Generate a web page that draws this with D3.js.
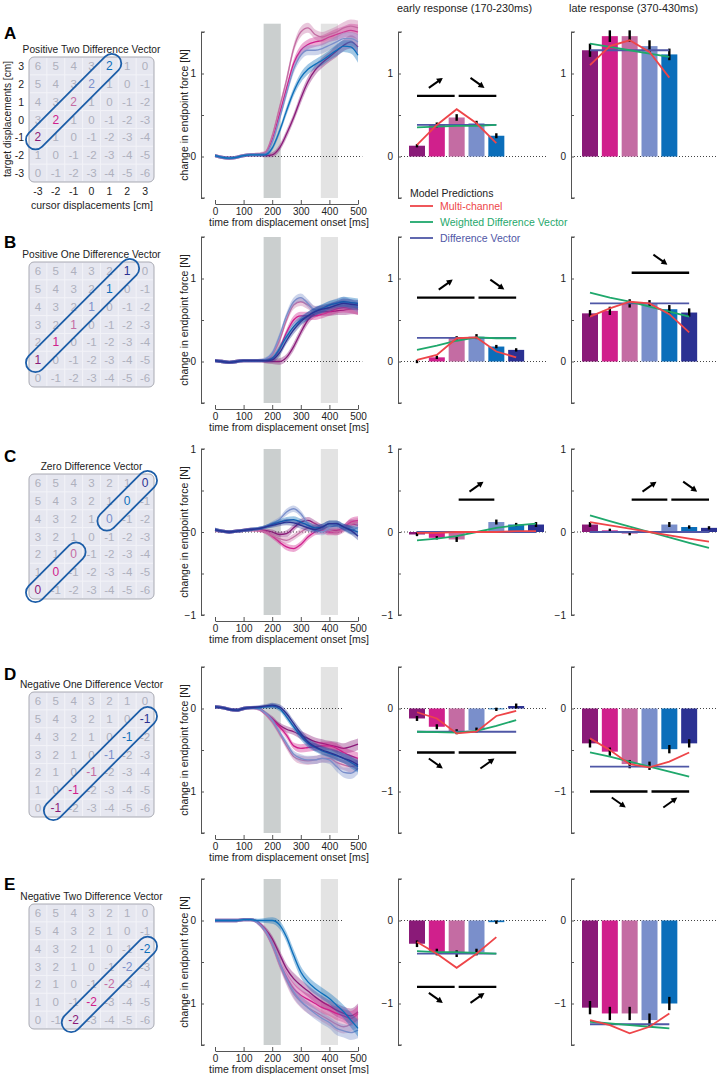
<!DOCTYPE html>
<html><head><meta charset="utf-8">
<script src="https://cdn.jsdelivr.net/npm/d3@7"></script>
<style>body{margin:0;background:#fff}svg{display:block;font-family:"Liberation Sans",Arial,Helvetica,sans-serif}</style>
</head><body><svg id="c" width="718" height="1074"></svg>
<script>
// ================= DATA =================
const panelLetters = ["A","B","C","D","E"];
const matrixTitles = ["Positive Two Difference Vector","Positive One Difference Vector","Zero Difference Vector","Negative One Difference Vector","Negative Two Difference Vector"];
const targetTicks = [3,2,1,0,-1,-2,-3];
const cursorTicks = [-3,-2,-1,0,1,2,3];
const differenceValues = [2,1,0,-1,-2];
// circled cells (by cursor displacement) for each row, one list per capsule
const circledA = [[-3,-2,-1,0,1]];
const circledB = [[-3,-2,-1,0,1,2]];
const circledC = [[-3,-2,-1],[1,2,3]];
const circledD = [[-2,-1,0,1,2,3]];
const circledE = [[-1,0,1,2,3]];
const conditionColors = ["#8A1A78","#D0208C","#C46CA3","#7A8FCB","#0B6EBA","#2B3192"];
// colour index of each bar slot (null = empty slot)
const slotsA = [0,1,2,3,4];
const slotsB = [0,1,2,3,4,5];
const slotsC = [0,1,2,null,3,4,5];
const slotsD = [0,1,2,3,4,5];
const slotsE = [0,1,2,3,4];
const yDomains = [[-0.5,1.5],[-0.5,1.5],[-1,1],[-1.5,0.5],[-1.5,0.5]];
const timeTicks = [0,100,200,300,400,500];
const earlyWindow = [170,230];
const lateWindow = [370,430];
const sampleTimes = [0,25,50,75,100,125,150,175,200,225,250,275,300,325,350,375,400,425,450,475,500];

// time traces (N) per condition
const tracesA = [
 [0.01,-0.01,-0.02,-0.01,0.01,0.02,0.02,0.01,0.02,0.10,0.27,0.47,0.70,0.90,1.04,1.13,1.20,1.27,1.34,1.38,1.32],
 [0.01,-0.01,-0.02,-0.01,0.01,0.02,0.02,0.04,0.20,0.50,0.82,1.12,1.28,1.35,1.38,1.40,1.44,1.47,1.50,1.52,1.50],
 [0.01,-0.01,-0.02,-0.01,0.01,0.02,0.03,0.05,0.25,0.58,0.92,1.30,1.50,1.55,1.47,1.44,1.47,1.50,1.55,1.57,1.55],
 [0.01,-0.01,-0.02,-0.01,0.01,0.02,0.02,0.03,0.17,0.45,0.76,1.05,1.22,1.28,1.28,1.30,1.34,1.38,1.42,1.42,1.38],
 [0.01,-0.01,-0.02,-0.01,0.01,0.02,0.02,0.02,0.10,0.30,0.55,0.78,0.95,1.05,1.11,1.16,1.22,1.28,1.33,1.32,1.22]];
const bandA = [0.02,0.02,0.02,0.02,0.02,0.02,0.02,0.02,0.03,0.04,0.05,0.05,0.06,0.06,0.06,0.06,0.06,0.07,0.07,0.08,0.09];
const tracesB = [
 [0.01,0.00,-0.01,0.00,0.01,0.01,0.01,0.00,0.00,0.00,0.05,0.18,0.35,0.50,0.58,0.60,0.60,0.61,0.62,0.63,0.63],
 [0.01,0.00,-0.01,0.00,0.01,0.01,0.01,0.01,0.03,0.15,0.35,0.50,0.55,0.55,0.55,0.57,0.60,0.63,0.65,0.64,0.62],
 [0.01,0.00,-0.01,0.00,0.01,0.01,0.01,0.02,0.08,0.25,0.50,0.68,0.72,0.68,0.62,0.62,0.65,0.67,0.68,0.65,0.62],
 [0.01,0.00,-0.01,0.00,0.01,0.01,0.01,0.03,0.10,0.30,0.55,0.72,0.77,0.70,0.62,0.64,0.68,0.71,0.72,0.69,0.65],
 [0.01,0.00,-0.01,0.00,0.01,0.01,0.01,0.01,0.04,0.15,0.30,0.42,0.50,0.55,0.60,0.64,0.68,0.70,0.72,0.71,0.70],
 [0.01,0.00,-0.01,0.00,0.01,0.01,0.01,0.01,0.02,0.10,0.25,0.38,0.48,0.55,0.60,0.63,0.65,0.68,0.70,0.69,0.68]];
const bandB = [0.02,0.02,0.02,0.02,0.02,0.02,0.02,0.02,0.03,0.04,0.04,0.05,0.05,0.05,0.05,0.05,0.05,0.05,0.06,0.06,0.06];
const tracesC = [
 [0.03,0.01,0.00,0.01,0.02,0.03,0.03,0.02,0.00,-0.03,-0.02,0.05,0.12,0.14,0.10,0.05,0.02,0.02,0.05,0.10,0.08],
 [0.02,0.01,0.00,0.01,0.02,0.03,0.02,0.00,-0.05,-0.12,-0.18,-0.20,-0.15,-0.06,0.00,0.02,0.00,0.00,0.05,0.12,0.14],
 [0.02,0.01,0.00,0.01,0.02,0.02,0.02,0.00,-0.04,-0.08,-0.10,-0.06,0.00,0.05,0.08,0.05,0.02,0.00,0.03,0.10,0.12],
 [0.03,0.01,0.00,0.01,0.02,0.03,0.04,0.06,0.10,0.15,0.24,0.28,0.22,0.10,0.02,0.00,0.05,0.08,0.05,0.02,0.06],
 [0.03,0.01,0.00,0.01,0.02,0.03,0.04,0.06,0.09,0.12,0.14,0.15,0.12,0.08,0.05,0.06,0.10,0.10,0.06,0.03,0.00],
 [0.03,0.01,0.00,0.01,0.02,0.03,0.04,0.06,0.08,0.10,0.12,0.11,0.08,0.05,0.03,0.06,0.10,0.10,0.06,0.02,-0.05]];
const bandC = [0.02,0.02,0.02,0.02,0.02,0.02,0.02,0.02,0.03,0.03,0.04,0.04,0.04,0.04,0.04,0.04,0.04,0.04,0.04,0.05,0.05];
const tracesD = [
 [0.02,0.01,-0.01,-0.02,0.00,0.01,0.01,-0.05,-0.12,-0.20,-0.25,-0.28,-0.32,-0.36,-0.40,-0.42,-0.44,-0.46,-0.48,-0.46,-0.43],
 [0.02,0.01,-0.01,-0.02,0.00,0.01,0.00,-0.06,-0.14,-0.22,-0.32,-0.45,-0.48,-0.47,-0.46,-0.45,-0.45,-0.48,-0.53,-0.57,-0.60],
 [0.02,0.01,-0.01,-0.02,0.00,0.01,0.00,-0.06,-0.16,-0.30,-0.45,-0.58,-0.62,-0.63,-0.62,-0.60,-0.60,-0.65,-0.68,-0.70,-0.68],
 [0.02,0.01,-0.01,-0.02,0.00,0.01,0.00,-0.05,-0.14,-0.28,-0.42,-0.55,-0.60,-0.62,-0.62,-0.60,-0.62,-0.70,-0.77,-0.78,-0.72],
 [0.02,0.01,-0.01,-0.02,0.00,0.01,0.01,0.02,0.03,0.00,-0.10,-0.22,-0.33,-0.42,-0.47,-0.51,-0.54,-0.57,-0.60,-0.65,-0.70],
 [0.02,0.01,-0.01,-0.02,0.00,0.01,0.02,0.03,0.04,0.02,-0.06,-0.18,-0.30,-0.40,-0.46,-0.50,-0.53,-0.56,-0.60,-0.63,-0.68]];
const bandD = [0.02,0.02,0.02,0.02,0.02,0.02,0.02,0.02,0.03,0.03,0.04,0.04,0.05,0.05,0.05,0.05,0.05,0.06,0.06,0.07,0.07];
const tracesE = [
 [0.00,0.00,0.00,0.00,0.01,0.01,-0.02,-0.10,-0.22,-0.40,-0.58,-0.70,-0.78,-0.85,-0.92,-0.98,-1.03,-1.08,-1.12,-1.15,-1.10],
 [0.00,0.00,0.00,0.00,0.01,0.01,-0.03,-0.12,-0.28,-0.50,-0.68,-0.82,-0.90,-0.95,-1.00,-1.05,-1.08,-1.12,-1.15,-1.18,-1.12],
 [0.00,0.00,0.00,0.00,0.01,0.01,-0.03,-0.13,-0.30,-0.52,-0.72,-0.88,-0.98,-1.05,-1.10,-1.15,-1.20,-1.25,-1.28,-1.25,-1.18],
 [0.00,0.00,0.00,0.00,0.01,0.01,-0.03,-0.12,-0.28,-0.50,-0.70,-0.86,-0.97,-1.05,-1.12,-1.18,-1.23,-1.30,-1.33,-1.35,-1.32],
 [0.00,0.00,0.00,0.00,0.01,0.01,0.00,0.00,0.00,-0.05,-0.20,-0.42,-0.62,-0.74,-0.82,-0.88,-0.94,-1.02,-1.10,-1.20,-1.30]];
const bandE = [0.02,0.02,0.02,0.02,0.02,0.02,0.02,0.03,0.04,0.05,0.06,0.07,0.07,0.07,0.07,0.07,0.07,0.08,0.08,0.09,0.10];

// early response (170-230ms) bars, SEM, model predictions (per slot)
const earlyA = [0.13,0.38,0.47,0.40,0.25];
const earlyErrA = [0.02,0.03,0.04,0.03,0.03];
const earlyRedA = [0.14,0.38,0.57,0.40,0.16];
const earlyGreenA = [0.35,0.36,0.37,0.37,0.38];
const earlyBlueA = [0.38,0.38,0.38,0.38,0.38];
const earlyB = [0.00,0.05,0.285,0.30,0.18,0.14];
const earlyErrB = [0.02,0.02,0.02,0.03,0.02,0.02];
const earlyRedB = [0.02,0.08,0.28,0.29,0.12,0.05];
const earlyGreenB = [0.14,0.19,0.25,0.29,0.28,0.28];
const earlyBlueB = [0.285,0.285,0.285,0.285,0.285,0.285];
const earlyC = [-0.03,-0.07,-0.09,null,0.12,0.09,0.09];
const earlyErrC = [0.02,0.02,0.03,null,0.03,0.02,0.03];
const earlyRedC = [-0.01,-0.01,0,0,0,0.01,0.01];
const earlyGreenC = [-0.10,-0.08,-0.05,0,0.05,0.08,0.10];
const earlyBlueC = [0,0,0,0,0,0,0];
const earlyD = [-0.12,-0.22,-0.28,-0.26,-0.01,0.03];
const earlyErrD = [0.03,0.03,0.03,0.03,0.02,0.03];
const earlyRedD = [-0.045,-0.12,-0.30,-0.28,-0.09,-0.03];
const earlyGreenD = [-0.28,-0.285,-0.29,-0.27,-0.21,-0.14];
const earlyBlueD = [-0.28,-0.28,-0.28,-0.28,-0.28,-0.28];
const earlyE = [-0.28,-0.38,-0.40,-0.38,-0.02];
const earlyErrE = [0.04,0.04,0.04,0.04,0.02];
const earlyRedE = [-0.26,-0.40,-0.57,-0.40,-0.20];
const earlyGreenE = [-0.37,-0.38,-0.38,-0.39,-0.40];
const earlyBlueE = [-0.40,-0.40,-0.40,-0.40,-0.40];

// late response (370-430ms)
const lateA = [1.28,1.45,1.45,1.33,1.23];
const lateErrA = [0.08,0.07,0.07,0.07,0.07];
const lateRedA = [1.10,1.33,1.40,1.26,0.95];
const lateGreenA = [1.36,1.32,1.28,1.24,1.20];
const lateBlueA = [1.28,1.28,1.28,1.28,1.28];
const lateB = [0.58,0.61,0.70,0.70,0.63,0.59];
const lateErrB = [0.04,0.05,0.05,0.04,0.05,0.05];
const lateRedB = [0.54,0.64,0.72,0.70,0.57,0.35];
const lateGreenB = [0.83,0.77,0.72,0.66,0.60,0.54];
const lateBlueB = [0.70,0.70,0.70,0.70,0.70,0.70];
const lateC = [0.09,0.02,-0.02,null,0.09,0.06,0.05];
const lateErrC = [0.03,0.02,0.02,null,0.03,0.02,0.02];
const lateRedC = [0.12,0.08,0.04,0,-0.04,-0.08,-0.115];
const lateGreenC = [0.20,0.13,0.065,0,-0.065,-0.13,-0.19];
const lateBlueC = [0,0,0,0,0,0,0];
const lateD = [-0.42,-0.52,-0.67,-0.69,-0.49,-0.42];
const lateErrD = [0.05,0.05,0.05,0.05,0.05,0.05];
const lateRedD = [-0.36,-0.50,-0.67,-0.71,-0.64,-0.53];
const lateGreenD = [-0.53,-0.58,-0.64,-0.70,-0.76,-0.82];
const lateBlueD = [-0.70,-0.70,-0.70,-0.70,-0.70,-0.70];
const lateE = [-1.05,-1.12,-1.12,-1.20,-1.00];
const lateErrE = [0.08,0.08,0.08,0.08,0.08];
const lateRedE = [-1.20,-1.26,-1.36,-1.28,-1.12];
const lateGreenE = [-1.22,-1.24,-1.26,-1.28,-1.30];
const lateBlueE = [-1.25,-1.25,-1.25,-1.25,-1.25];

// significance bars: from slot to slot, level (N), trend direction
const sigEarly = [
 [{from:0,to:2,level:0.73,trend:"up"},{from:2,to:4,level:0.73,trend:"down"}],
 [{from:0,to:3,level:0.77,trend:"up"},{from:3,to:5,level:0.77,trend:"down"}],
 [{from:2,to:4,level:0.39,trend:"up"}],
 [{from:0,to:2,level:-0.53,trend:"down"},{from:2,to:5,level:-0.53,trend:"up"}],
 [{from:0,to:2,level:-0.80,trend:"down"},{from:2,to:4,level:-0.80,trend:"up"}]];
const sigLate = [
 [],
 [{from:2,to:5,level:1.07,trend:"down"}],
 [{from:2,to:4,level:0.39,trend:"up"},{from:4,to:6,level:0.39,trend:"down"}],
 [{from:0,to:3,level:-1.0,trend:"down"},{from:3,to:5,level:-1.0,trend:"up"}],
 []];

const legendTitle = "Model Predictions";
const legendNames = ["Multi-channel","Weighted Difference Vector","Difference Vector"];
const modelColors = ["#EE4549","#1FA86C","#4F57A6"];

// ================= ASSEMBLY =================
const rows = [
 {circled:circledA,slots:slotsA,traces:tracesA,band:bandA,early:[earlyA,earlyErrA,earlyRedA,earlyGreenA,earlyBlueA],late:[lateA,lateErrA,lateRedA,lateGreenA,lateBlueA]},
 {circled:circledB,slots:slotsB,traces:tracesB,band:bandB,early:[earlyB,earlyErrB,earlyRedB,earlyGreenB,earlyBlueB],late:[lateB,lateErrB,lateRedB,lateGreenB,lateBlueB]},
 {circled:circledC,slots:slotsC,traces:tracesC,band:bandC,early:[earlyC,earlyErrC,earlyRedC,earlyGreenC,earlyBlueC],late:[lateC,lateErrC,lateRedC,lateGreenC,lateBlueC]},
 {circled:circledD,slots:slotsD,traces:tracesD,band:bandD,early:[earlyD,earlyErrD,earlyRedD,earlyGreenD,earlyBlueD],late:[lateD,lateErrD,lateRedD,lateGreenD,lateBlueD]},
 {circled:circledE,slots:slotsE,traces:tracesE,band:bandE,early:[earlyE,earlyErrE,earlyRedE,earlyGreenE,earlyBlueE],late:[lateE,lateErrE,lateRedE,lateGreenE,lateBlueE]}];

// ================= LAYOUT =================
const rowTop = [32,237,449,667,879];
const letterY = [39,248,462,680,890];
const unitPx = 83;
const shadeTop = [1.6,1.5,1,0.5,0.5];
const dottedEnd = [515,515,450,450,450];
const timeAxisX = 201;
const earlyAxisX = 398, lateAxisX = 571;
const svg = d3.select("#c");
const axisColor = "#555";
const txt = "#222";

const timeX = d3.scaleLinear().domain([0,500]).range([215,358]);
const slotEarly = d3.scaleLinear().domain([0,6]).range([417,536]);
const slotLate = d3.scaleLinear().domain([0,6]).range([590,709]);
const matX = d3.scaleBand().domain(cursorTicks).range([29,154]);

function yAxis(g, y, x, labels){
  const dom = y.domain();
  const vals = d3.range(dom[0], dom[1]+0.001, 0.5);
  const ax = d3.axisLeft(y).tickValues(vals).tickSize(-3).tickSizeOuter(0).tickPadding(5)
    .tickFormat(v => (labels && Math.abs(v-Math.round(v))<1e-6) ? d3.format("d")(Math.round(v)).replace("-","\u2212") : "");
  const a = g.append("g").attr("transform",`translate(${x},0)`).call(ax);
  a.select(".domain").attr("stroke",axisColor);
  a.selectAll(".tick line").attr("stroke",axisColor);
  a.selectAll(".tick text").attr("fill",txt).attr("font-size",10).style("font-family","inherit");
  [dom[0],dom[1]].forEach(v=>{
    g.append("line").attr("x1",x).attr("x2",x+4).attr("y1",y(v)).attr("y2",y(v)).attr("stroke",axisColor);
  });
}

rows.forEach((row,ri)=>{
  const top = rowTop[ri];
  const dom = yDomains[ri];
  const y = d3.scaleLinear().domain(dom).range([top+(dom[1]-dom[0])*unitPx, top]);
  const g = svg.append("g");

  g.append("text").attr("x",4).attr("y",letterY[ri]).attr("font-size",17).attr("font-weight","bold").attr("fill","#000").text(panelLetters[ri]);

  // ---- matrix ----
  const mTop = top + 25;
  const matY = d3.scaleBand().domain(targetTicks).range([mTop, mTop+125]);
  const cs = matX.bandwidth();
  g.append("text").attr("x",91.5).attr("y",mTop-4).attr("text-anchor","middle").attr("font-size",10.2).attr("fill",txt).text(matrixTitles[ri]);
  g.append("rect").attr("x",29).attr("y",mTop).attr("width",125).attr("height",125).attr("rx",5)
    .attr("fill","#E6E7F0").attr("stroke","#A9AAB3").attr("stroke-width",1);
  for(let i=1;i<7;i++){
    g.append("line").attr("x1",29+i*cs).attr("x2",29+i*cs).attr("y1",mTop+1).attr("y2",mTop+124).attr("stroke","#F3F3F8").attr("stroke-width",1);
    g.append("line").attr("y1",mTop+i*cs).attr("y2",mTop+i*cs).attr("x1",30).attr("x2",153).attr("stroke","#F3F3F8").attr("stroke-width",1);
  }
  const hl = new Map();
  const colorSeq = row.slots.filter(s=>s!==null);
  let k=0;
  row.circled.forEach(grp=>grp.forEach(c=>{ hl.set(c, conditionColors[colorSeq[k++]]); }));
  targetTicks.forEach(t=>cursorTicks.forEach(c=>{
    const v = t - c;
    const isHl = (v===differenceValues[ri]) && hl.has(c);
    g.append("text").attr("x",matX(c)+cs/2).attr("y",matY(t)+cs/2+4)
      .attr("text-anchor","middle").attr("font-size",isHl?12:11.5)
      .attr("fill",isHl?hl.get(c):"#AEB0BD").text(String(v));
  }));
  row.circled.forEach(grp=>{
    const c0 = grp[0], c1 = grp[grp.length-1];
    const t0 = c0 + differenceValues[ri], t1 = c1 + differenceValues[ri];
    const x0 = matX(c0)+cs/2, y0 = matY(t0)+cs/2, x1 = matX(c1)+cs/2, y1 = matY(t1)+cs/2;
    const len = Math.hypot(x1-x0,y1-y0) + 26, wid = 19;
    g.append("rect").attr("x",-len/2).attr("y",-wid/2).attr("width",len).attr("height",wid).attr("rx",wid/2)
      .attr("fill","none").attr("stroke","#1D5EA8").attr("stroke-width",1.8)
      .attr("transform",`translate(${(x0+x1)/2},${(y0+y1)/2}) rotate(-45)`);
  });
  if(ri===0){
    targetTicks.forEach(t=>g.append("text").attr("x",24).attr("y",matY(t)+cs/2+4).attr("text-anchor","end").attr("font-size",10.5).attr("fill",txt).text(String(t)));
    cursorTicks.forEach(c=>g.append("text").attr("x",matX(c)+cs/2).attr("y",mTop+138).attr("text-anchor","middle").attr("font-size",10.5).attr("fill",txt).text(c));
    g.append("text").attr("transform",`translate(10.5,${mTop+62}) rotate(-90)`).attr("text-anchor","middle").attr("font-size",10.2).attr("fill",txt).text("target displacements [cm]");
    g.append("text").attr("x",92).attr("y",mTop+152).attr("text-anchor","middle").attr("font-size",10.5).attr("fill",txt).text("cursor displacements [cm]");
  }

  // ---- time course plot ----
  const bottom = y(dom[0]);
  [[earlyWindow,"#CBCFCF"],[lateWindow,"#E3E3E3"]].forEach(([w,col])=>{
    g.append("rect").attr("x",timeX(w[0])).attr("width",timeX(w[1])-timeX(w[0]))
      .attr("y",y(shadeTop[ri])).attr("height",bottom-y(shadeTop[ri])).attr("fill",col);
  });
  g.append("line").attr("x1",timeX(0)).attr("x2",timeX(dottedEnd[ri])).attr("y1",y(0)).attr("y2",y(0))
    .attr("stroke","#444").attr("stroke-dasharray","1,2").attr("stroke-width",1);
  row.traces.forEach((tr,ti)=>{
    const col = conditionColors[row.slots.filter(s=>s!==null)[ti]];
    const pts = sampleTimes.map((t,i)=>({t,v:tr[i],e:row.band[i]}));
    const area = d3.area().x(d=>timeX(d.t)).y0(d=>y(d.v-d.e)).y1(d=>y(d.v+d.e)).curve(d3.curveMonotoneX);
    const line = d3.line().x(d=>timeX(d.t)).y(d=>y(d.v)).curve(d3.curveMonotoneX);
    g.append("path").attr("d",area(pts)).attr("fill",col).attr("fill-opacity",0.38);
    g.append("path").attr("d",line(pts)).attr("fill","none").attr("stroke",col).attr("stroke-width",1.3);
  });
  yAxis(g, y, timeAxisX, true);
  const xa = g.append("g").attr("transform",`translate(0,${bottom+6})`)
    .call(d3.axisBottom(timeX).tickValues(timeTicks).tickSize(-4).tickSizeOuter(0).tickPadding(4));
  xa.select(".domain").attr("stroke",axisColor);
  xa.selectAll(".tick line").attr("stroke",axisColor);
  xa.selectAll(".tick text").attr("fill",txt).attr("font-size",10).style("font-family","inherit");
  g.append("text").attr("x",289).attr("y",bottom+28).attr("text-anchor","middle").attr("font-size",10.5).attr("fill",txt).text("time from displacement onset [ms]");
  g.append("text").attr("transform",`translate(188,${(top+bottom)/2}) rotate(-90)`).attr("text-anchor","middle").attr("font-size",10.5).attr("fill",txt).text("change in endpoint force [N]");

  // ---- bar plots ----
  [[row.early,earlyAxisX,slotEarly,sigEarly[ri],547],[row.late,lateAxisX,slotLate,sigLate[ri],718]].forEach(([set,ax,sx,sig,dotEnd])=>{
    const [vals,errs,red,green,blue] = set;
    g.append("line").attr("x1",ax).attr("x2",dotEnd).attr("y1",y(0)).attr("y2",y(0))
      .attr("stroke","#444").attr("stroke-dasharray","1,2").attr("stroke-width",1);
    vals.forEach((v,i)=>{
      if(v===null) return;
      const col = conditionColors[row.slots[i]];
      g.append("rect").attr("x",sx(i)-8).attr("width",16).attr("y",Math.min(y(v),y(0))).attr("height",Math.abs(y(v)-y(0)))
        .attr("fill",col);
    });
    vals.forEach((v,i)=>{
      if(v===null) return;
      g.append("line").attr("x1",sx(i)).attr("x2",sx(i)).attr("y1",y(v-errs[i])).attr("y2",y(v+errs[i]))
        .attr("stroke","#000").attr("stroke-width",2.4);
    });
    [blue,green,red].forEach((m,mi)=>{
      const col = modelColors[2-mi];
      const ln = d3.line().x((d,i)=>sx(i)).y(d=>y(d));
      g.append("path").attr("d",ln(m)).attr("fill","none").attr("stroke",col).attr("stroke-width",1.8);
    });
    sig.forEach(s=>{
      const xa0 = sx(s.from)+(s.from>0?2:0), xa1 = sx(s.to)-(s.to<vals.length-1?2:0);
      const ly = y(s.level);
      g.append("line").attr("x1",xa0).attr("x2",xa1).attr("y1",ly).attr("y2",ly).attr("stroke","#000").attr("stroke-width",2.4);
      const cx = (xa0+xa1)/2, cy = s.level>0 ? ly-13 : ly+11;
      const up = s.trend==="up";
      const x0 = cx-7, x1 = cx+7, ya = up? cy+5 : cy-5, yb = up? cy-5 : cy+5;
      g.append("line").attr("x1",x0).attr("y1",ya).attr("x2",x1-2).attr("y2",yb+(up?1.5:-1.5)).attr("stroke","#000").attr("stroke-width",2);
      const ang = Math.atan2(yb-ya,x1-x0);
      const hl2 = 6, hw = 3.2;
      const bx = x1 - hl2*Math.cos(ang), by = yb - hl2*Math.sin(ang);
      g.append("path").attr("d",`M${x1},${yb}L${bx - hw*Math.sin(ang)},${by + hw*Math.cos(ang)}L${bx + hw*Math.sin(ang)},${by - hw*Math.cos(ang)}Z`).attr("fill","#000");
    });
    yAxis(g, y, ax, true);
  });
});

svg.append("text").attr("x",397).attr("y",12).attr("font-size",10.8).attr("fill",txt).text("early response (170-230ms)");
svg.append("text").attr("x",569).attr("y",12).attr("font-size",10.8).attr("fill",txt).text("late response (370-430ms)");

const lg = svg.append("g");
lg.append("text").attr("x",410).attr("y",197).attr("font-size",10.5).attr("fill",txt).text(legendTitle);
legendNames.forEach((n,i)=>{
  const yy = 206 + i*16;
  lg.append("line").attr("x1",410).attr("x2",433).attr("y1",yy).attr("y2",yy).attr("stroke",modelColors[i]).attr("stroke-width",1.8);
  lg.append("text").attr("x",440).attr("y",yy+4).attr("font-size",10.5).attr("fill",modelColors[i]).text(n);
});
</script></body></html>
